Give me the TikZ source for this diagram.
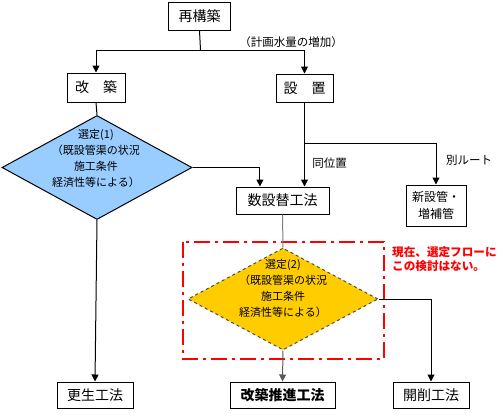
\documentclass[tikz,border=0pt]{standalone}
\usepackage{fontspec}
\setmainfont{Noto Sans CJK JP}
\usetikzlibrary{shapes.geometric,arrows.meta,calc}
\definecolor{dblue}{HTML}{99CCFF}
\definecolor{dgold}{HTML}{FFCC00}
\definecolor{dred}{HTML}{FF0000}
\definecolor{lgray}{HTML}{808080}
\tikzset{
  box/.style={draw=black, line width=1pt, fill=white, font=\fontsize{14}{16}\selectfont, inner sep=0pt, minimum height=28pt},
  diashape/.style={diamond, inner sep=0pt, minimum width=190pt, minimum height=104pt},
  dtext/.style={align=center, font=\fontsize{11}{16}\selectfont, inner sep=0pt},
  lbl/.style={font=\fontsize{11.5}{13}\selectfont, inner sep=0pt},
  conn/.style={line width=1pt},
  arr/.style={conn, -{Triangle[length=7pt,width=7pt]}},
  redbox/.style={draw=dred, line width=2pt, dash pattern=on 16pt off 5pt on 3pt off 5pt},
  note/.style={font=\bfseries\fontsize{11.6}{14}\selectfont, text=dred, align=left, inner sep=0pt},
}
\begin{document}
\begin{tikzpicture}[x=1pt,y=-1pt]
\useasboundingbox[fill=white] (0,0) rectangle (504,413);

% boxes
\node[box, minimum width=62pt] (top) at (199.5,16) {再構築};
\node[box, minimum width=58pt, minimum height=29pt] (kaichiku) at (96,87.5) {改　築};
\node[box, minimum width=57pt] (secchi) at (304.5,88) {設　置};
\node[box, minimum width=93pt, minimum height=27pt] (sousetsu) at (282.5,200.5) {数設替工法};
\node[box, minimum width=60pt, minimum height=41pt, align=center, font=\fontsize{12}{17}\selectfont] (shinsetsu) at (436,205.5) {新設管・\\増補管};
\node[box, minimum width=76pt, minimum height=26pt] (kousei) at (95,395) {更生工法};
\node[box, minimum width=105pt, minimum height=26pt, font=\bfseries\fontsize{14}{16}\selectfont] (suishin) at (282.5,395) {改築推進工法};
\node[box, minimum width=76pt, minimum height=26pt] (kaisaku) at (431,395) {開削工法};

% diamonds
\node[diashape, draw=black, line width=1pt, fill=dblue] (d1) at (97,167.5) {};
\node[dtext] (d1t) at (96,158) {選定(1)\\（既設管渠の状況\\施工条件\\経済性等による）};
\node[diashape, draw=lgray!60!black, line width=1pt, dashed, fill=dgold, minimum height=102pt] (d2) at (283,299) {};
\node[dtext] (d2t) at (283,288) {選定(2)\\（既設管渠の状況\\施工条件\\経済性等による）};

% red dash-dot frame
\draw[redbox] (183,242) rectangle (384,359);
\node[note, anchor=north west] (notet) at (392,246) {現在、選定フローに\\この検討はない。};

% junctions
\coordinate (j1) at (200.5,50);
\coordinate (j2) at (304.5,143);

% connectors
\draw[conn] (top.south) -- (j1);
\draw[arr] (j1) -| (kaichiku.north);
\draw[arr] (j1) -| (secchi.north);
\node[lbl, anchor=south] (lbl1) at (291,48) {（計画水量の増加）};

\draw[conn] (kaichiku.south) -- (d1.north);
\draw[arr] (d1.south) -- (kousei.north);
\draw[arr] (d1.east) -| ($(sousetsu.north west)!0.26!(sousetsu.north east)$);

\draw[arr] (secchi.south) -- (secchi.south |- sousetsu.north);
\draw[arr] (j2) -| (shinsetsu.north);
\node[lbl] (lbl2) at (329.5,163) {同位置};
\node[lbl] (lbl3) at (469,160) {別ルート};

\draw[conn, draw=lgray] (sousetsu.south) -- (d2.north);
\draw[arr, draw=lgray!70!black] (d2.south) -- (suishin.north);
\draw[arr] (d2.east) -| (kaisaku.north);
\end{tikzpicture}
\end{document}
